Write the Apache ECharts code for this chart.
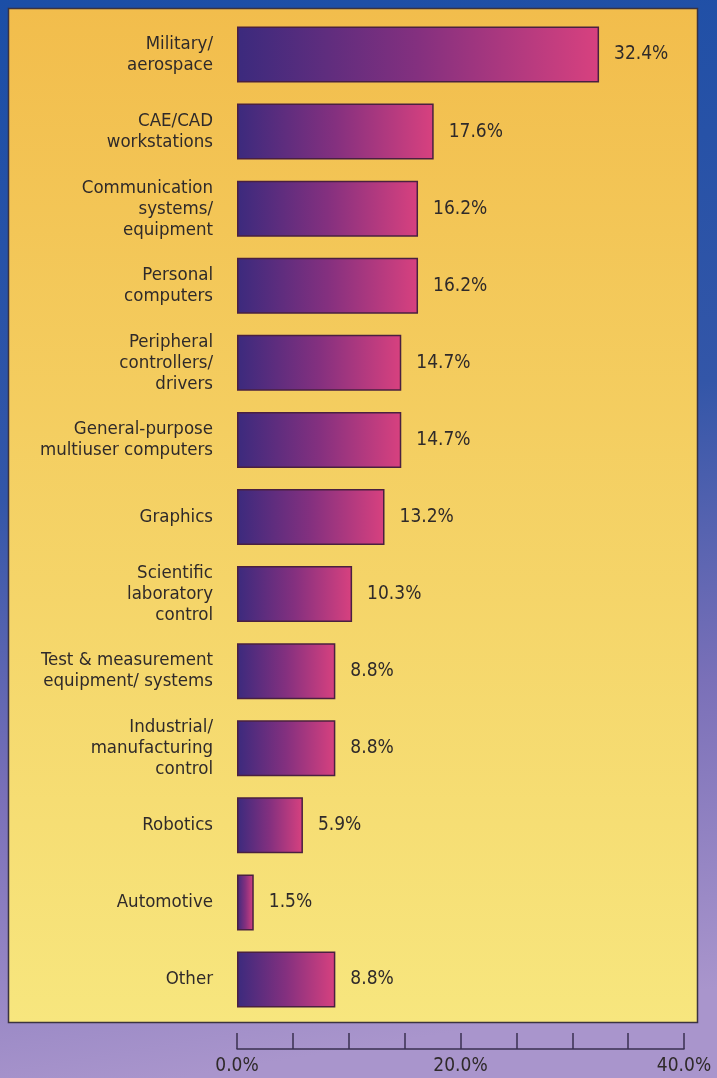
<!DOCTYPE html>
<html>
<head>
<meta charset="utf-8">
<script src="https://cdn.jsdelivr.net/npm/echarts@6/dist/echarts.min.js"></script>
<style>
html,body{margin:0;padding:0;width:717px;height:1078px;overflow:hidden;}
#chart{width:717px;height:1078px;}
</style>
</head>
<body>
<div id="chart"></div>
<script>
const categories = [
  'Military/\naerospace',
  'CAE/CAD\nworkstations',
  'Communication\nsystems/\nequipment',
  'Personal\ncomputers',
  'Peripheral\ncontrollers/\ndrivers',
  'General-purpose\nmultiuser computers',
  'Graphics',
  'Scientific\nlaboratory\ncontrol',
  'Test & measurement\nequipment/ systems',
  'Industrial/\nmanufacturing\ncontrol',
  'Robotics',
  'Automotive',
  'Other'
];
const values = [32.4, 17.6, 16.2, 16.2, 14.7, 14.7, 13.2, 10.3, 8.8, 8.8, 5.9, 1.5, 8.8];
const xTickValues = [0, 20, 40];
const xTickLabels = ['0.0%', '20.0%', '40.0%'];

const FONT = '"Liberation Sans Narrow", "Arial Narrow", "DejaVu Sans Condensed", sans-serif';
const TEXT = '#2f2a2a';

const chart = echarts.init(document.getElementById('chart'), null, {renderer: 'canvas'});
chart.setOption({
  animation: false,
  backgroundColor: {
    type: 'linear', x: 0, y: 0, x2: 0.25, y2: 1,
    colorStops: [
      {offset: 0, color: '#1b4ea6'},
      {offset: 0.45, color: '#3356a8'},
      {offset: 0.72, color: '#7a70b8'},
      {offset: 1, color: '#a995cc'}
    ]
  },
  graphic: [{
    type: 'rect',
    z: 0,
    silent: true,
    shape: {x: 8.5, y: 8.5, width: 689, height: 1014},
    style: {
      fill: {
        type: 'linear', x: 0, y: 0, x2: 0, y2: 1,
        colorStops: [
          {offset: 0, color: '#f2bd4c'},
          {offset: 1, color: '#f7e67e'}
        ]
      },
      stroke: '#3b3340',
      lineWidth: 1.5
    }
  }],
  grid: {left: 237, right: 33, top: 16, bottom: 60, containLabel: false},
  xAxis: {
    type: 'value',
    min: 0, max: 40, interval: 5,
    position: 'bottom',
    offset: 31,
    splitLine: {show: false},
    axisLine: {show: true, lineStyle: {color: '#3a3050', width: 1.5}},
    axisTick: {show: true, inside: true, length: 16, lineStyle: {color: '#3a3050', width: 1.5}},
    axisLabel: {
      margin: 8,
      color: TEXT,
      fontFamily: FONT,
      fontSize: 19,
      formatter: function (v) {
        const i = xTickValues.indexOf(v);
        return i >= 0 ? xTickLabels[i] : '';
      }
    }
  },
  yAxis: {
    type: 'category',
    data: categories,
    inverse: true,
    axisLine: {show: false},
    axisTick: {show: false},
    axisLabel: {
      margin: 24,
      color: TEXT,
      fontFamily: FONT,
      fontSize: 18.5,
      lineHeight: 21,
      align: 'right'
    }
  },
  series: [{
    type: 'bar',
    data: values,
    barWidth: 56,
    z: 5,
    itemStyle: {
      color: {
        type: 'linear', x: 0, y: 0, x2: 1, y2: 0,
        colorStops: [
          {offset: 0, color: '#3b2a7d'},
          {offset: 0.5, color: '#84307f'},
          {offset: 1, color: '#d8417f'}
        ]
      },
      borderColor: '#4a2040',
      borderWidth: 1.5
    },
    label: {
      show: true,
      position: 'right',
      distance: 15,
      color: TEXT,
      fontFamily: FONT,
      fontSize: 19,
      formatter: function (p) { return p.value.toFixed(1) + '%'; }
    }
  }]
});
</script>
</body>
</html>
